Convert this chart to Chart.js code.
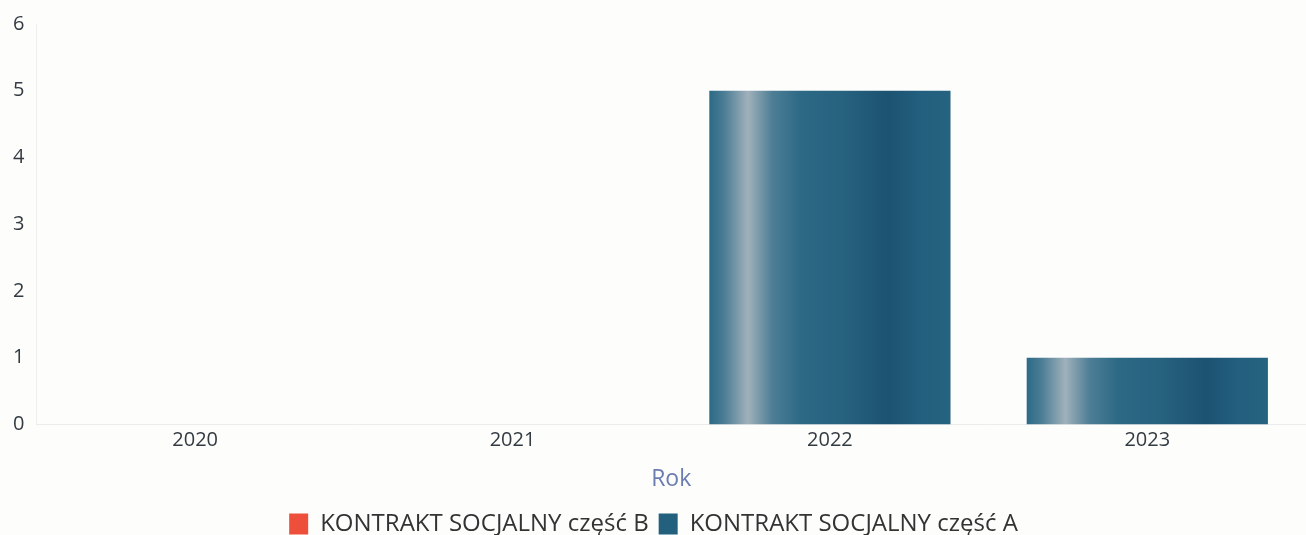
<!DOCTYPE html>
<html>
<head>
<meta charset="utf-8">
<script src="https://cdn.jsdelivr.net/npm/chart.js@4.4.1/dist/chart.umd.min.js"></script>
<style>
  html, body { margin: 0; padding: 0; background: #fdfdfc; }
  #wrap { width: 1306px; height: 535px; }
</style>
</head>
<body>
<div id="wrap"><canvas id="chart"></canvas></div>
<script>
// categories and values
const years = ['2020', '2021', '2022', '2023'];
const partB = [0, 0, 0, 0];
const partA = [0, 0, 5, 1];
const yTicks = [0, 1, 2, 3, 4, 5, 6];

const colorA = '#22607d';
const colorB = '#ee4f3b';
const barShare = 0.76;

// horizontal "shiny" gradient across each bar, like the scan
function barGradient(ctx, base) {
    const chart = ctx.chart;
    const x = chart.scales.x;
    if (!chart.chartArea || !x || ctx.dataIndex === undefined) return base;
    const c = x.getPixelForValue(ctx.dataIndex);
    const w = (x.width / years.length) * barShare;
    const g = chart.ctx.createLinearGradient(c - w / 2, 0, c + w / 2, 0);
    g.addColorStop(0.0, '#2c6a86');
    g.addColorStop(0.06, '#4a7c95');
    g.addColorStop(0.16, '#a0b1bb');
    g.addColorStop(0.26, '#4e7e96');
    g.addColorStop(0.38, '#2c6985');
    g.addColorStop(0.55, '#27627f');
    g.addColorStop(0.74, '#1c5272');
    g.addColorStop(0.88, '#235f7e');
    g.addColorStop(1.0, '#25637f');
    return g;
}

const ctx = document.getElementById('chart').getContext('2d');
new Chart(ctx, {
    type: 'bar',
    data: {
        labels: years,
        datasets: [
            {
                label: 'KONTRAKT SOCJALNY część B',
                data: partB,
                backgroundColor: colorB,
                categoryPercentage: barShare,
                barPercentage: 1
            },
            {
                label: 'KONTRAKT SOCJALNY część A',
                data: partA,
                backgroundColor: c => barGradient(c, colorA),
                categoryPercentage: barShare,
                barPercentage: 1
            }
        ]
    },
    options: {
        responsive: true,
        maintainAspectRatio: false,
        animation: false,
        layout: { padding: { left: 1, right: 0, top: 2, bottom: -11 } },
        scales: {
            x: {
                stacked: true,
                grid: { display: false, drawTicks: false },
                border: { color: '#ececec' },
                ticks: { color: '#333b42', font: { family: 'Open Sans', size: 20 }, padding: 4 },
                title: {
                    display: true,
                    text: 'Rok',
                    color: '#6b7cb0',
                    font: { family: 'Open Sans', size: 23 },
                    padding: { top: 9, bottom: 9 }
                }
            },
            y: {
                stacked: true,
                min: 0,
                max: 6,
                afterBuildTicks: axis => { axis.ticks = yTicks.map(v => ({ value: v })); },
                grid: { display: false, drawTicks: false },
                border: { color: '#f0f0f0' },
                ticks: { color: '#333b42', font: { family: 'Open Sans', size: 20 }, padding: 12 }
            }
        },
        plugins: {
            tooltip: { enabled: false },
            legend: {
                position: 'bottom',
                labels: {
                    color: '#333',
                    font: { family: 'Open Sans', size: 24, lineHeight: 1 },
                    boxWidth: 19,
                    boxHeight: 21,
                    padding: 10,
                    generateLabels: chart => chart.data.datasets.map((ds, i) => ({
                        text: ds.label,
                        fillStyle: i === 0 ? colorB : colorA,
                        strokeStyle: i === 0 ? colorB : colorA,
                        lineWidth: 0,
                        datasetIndex: i,
                        fontColor: '#333'
                    }))
                }
            }
        }
    }
});
</script>
</body>
</html>
